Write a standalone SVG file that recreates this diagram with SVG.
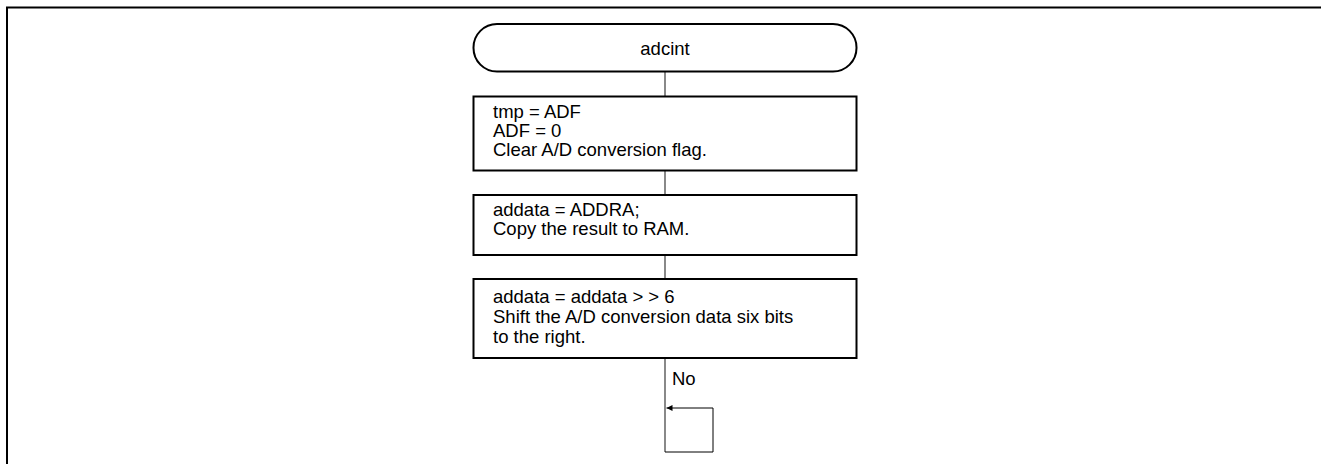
<svg xmlns="http://www.w3.org/2000/svg" width="1321" height="464" viewBox="0 0 1321 464">
  <style>
    .frame { fill: none; stroke: #000; stroke-width: 2; }
    .box { fill: #fff; stroke: #000; stroke-width: 2; }
    .conn { fill: none; stroke: #3a3a3a; stroke-width: 1.2; }
    .loop { fill: none; stroke: #000; stroke-width: 1; }
    text { font-family: "Liberation Sans", Arial, sans-serif; font-size: 18.5px; fill: #000; }
  </style>
  <defs>
    <marker id="arrow" viewBox="0 0 10 10" refX="10" refY="5" markerWidth="10" markerHeight="6" markerUnits="userSpaceOnUse" orient="auto">
      <path d="M0,0 L10,5 L0,10 z" fill="#000"/>
    </marker>
  </defs>

  <!-- page frame -->
  <path class="frame" d="M7,464 V7.5 H1321"/>

  <!-- connectors -->
  <g id="connectors">
    <line class="conn" x1="665" y1="72" x2="665" y2="96"/>
    <line class="conn" x1="665" y1="171" x2="665" y2="195"/>
    <line class="conn" x1="665" y1="255" x2="665" y2="279"/>
    <line class="conn" x1="665" y1="358" x2="665" y2="452"/>
    <path class="loop" d="M665,452 H713 V408 H666.5" marker-end="url(#arrow)"/>
    <text x="672" y="385">No</text>
  </g>

  <g id="start">
    <rect class="box" x="473.5" y="24" width="383" height="47.5" rx="23.5" ry="23.5"/>
    <text x="665" y="54.5" text-anchor="middle">adcint</text>
  </g>

  <g id="clear-flag">
    <rect class="box" x="473.5" y="96.5" width="383" height="74"/>
    <text x="493" y="117.5">tmp = ADF</text>
    <text x="493" y="136.5">ADF = 0</text>
    <text x="493" y="155.5">Clear A/D conversion flag.</text>
  </g>

  <g id="copy-result">
    <rect class="box" x="473.5" y="195" width="383" height="60"/>
    <text x="493" y="216">addata = ADDRA;</text>
    <text x="493" y="235">Copy the result to RAM.</text>
  </g>

  <g id="shift-data">
    <rect class="box" x="473.5" y="279" width="383" height="79"/>
    <text x="493" y="303">addata = addata &gt; &gt; 6</text>
    <text x="493" y="323">Shift the A/D conversion data six bits</text>
    <text x="493" y="343">to the right.</text>
  </g>
</svg>
